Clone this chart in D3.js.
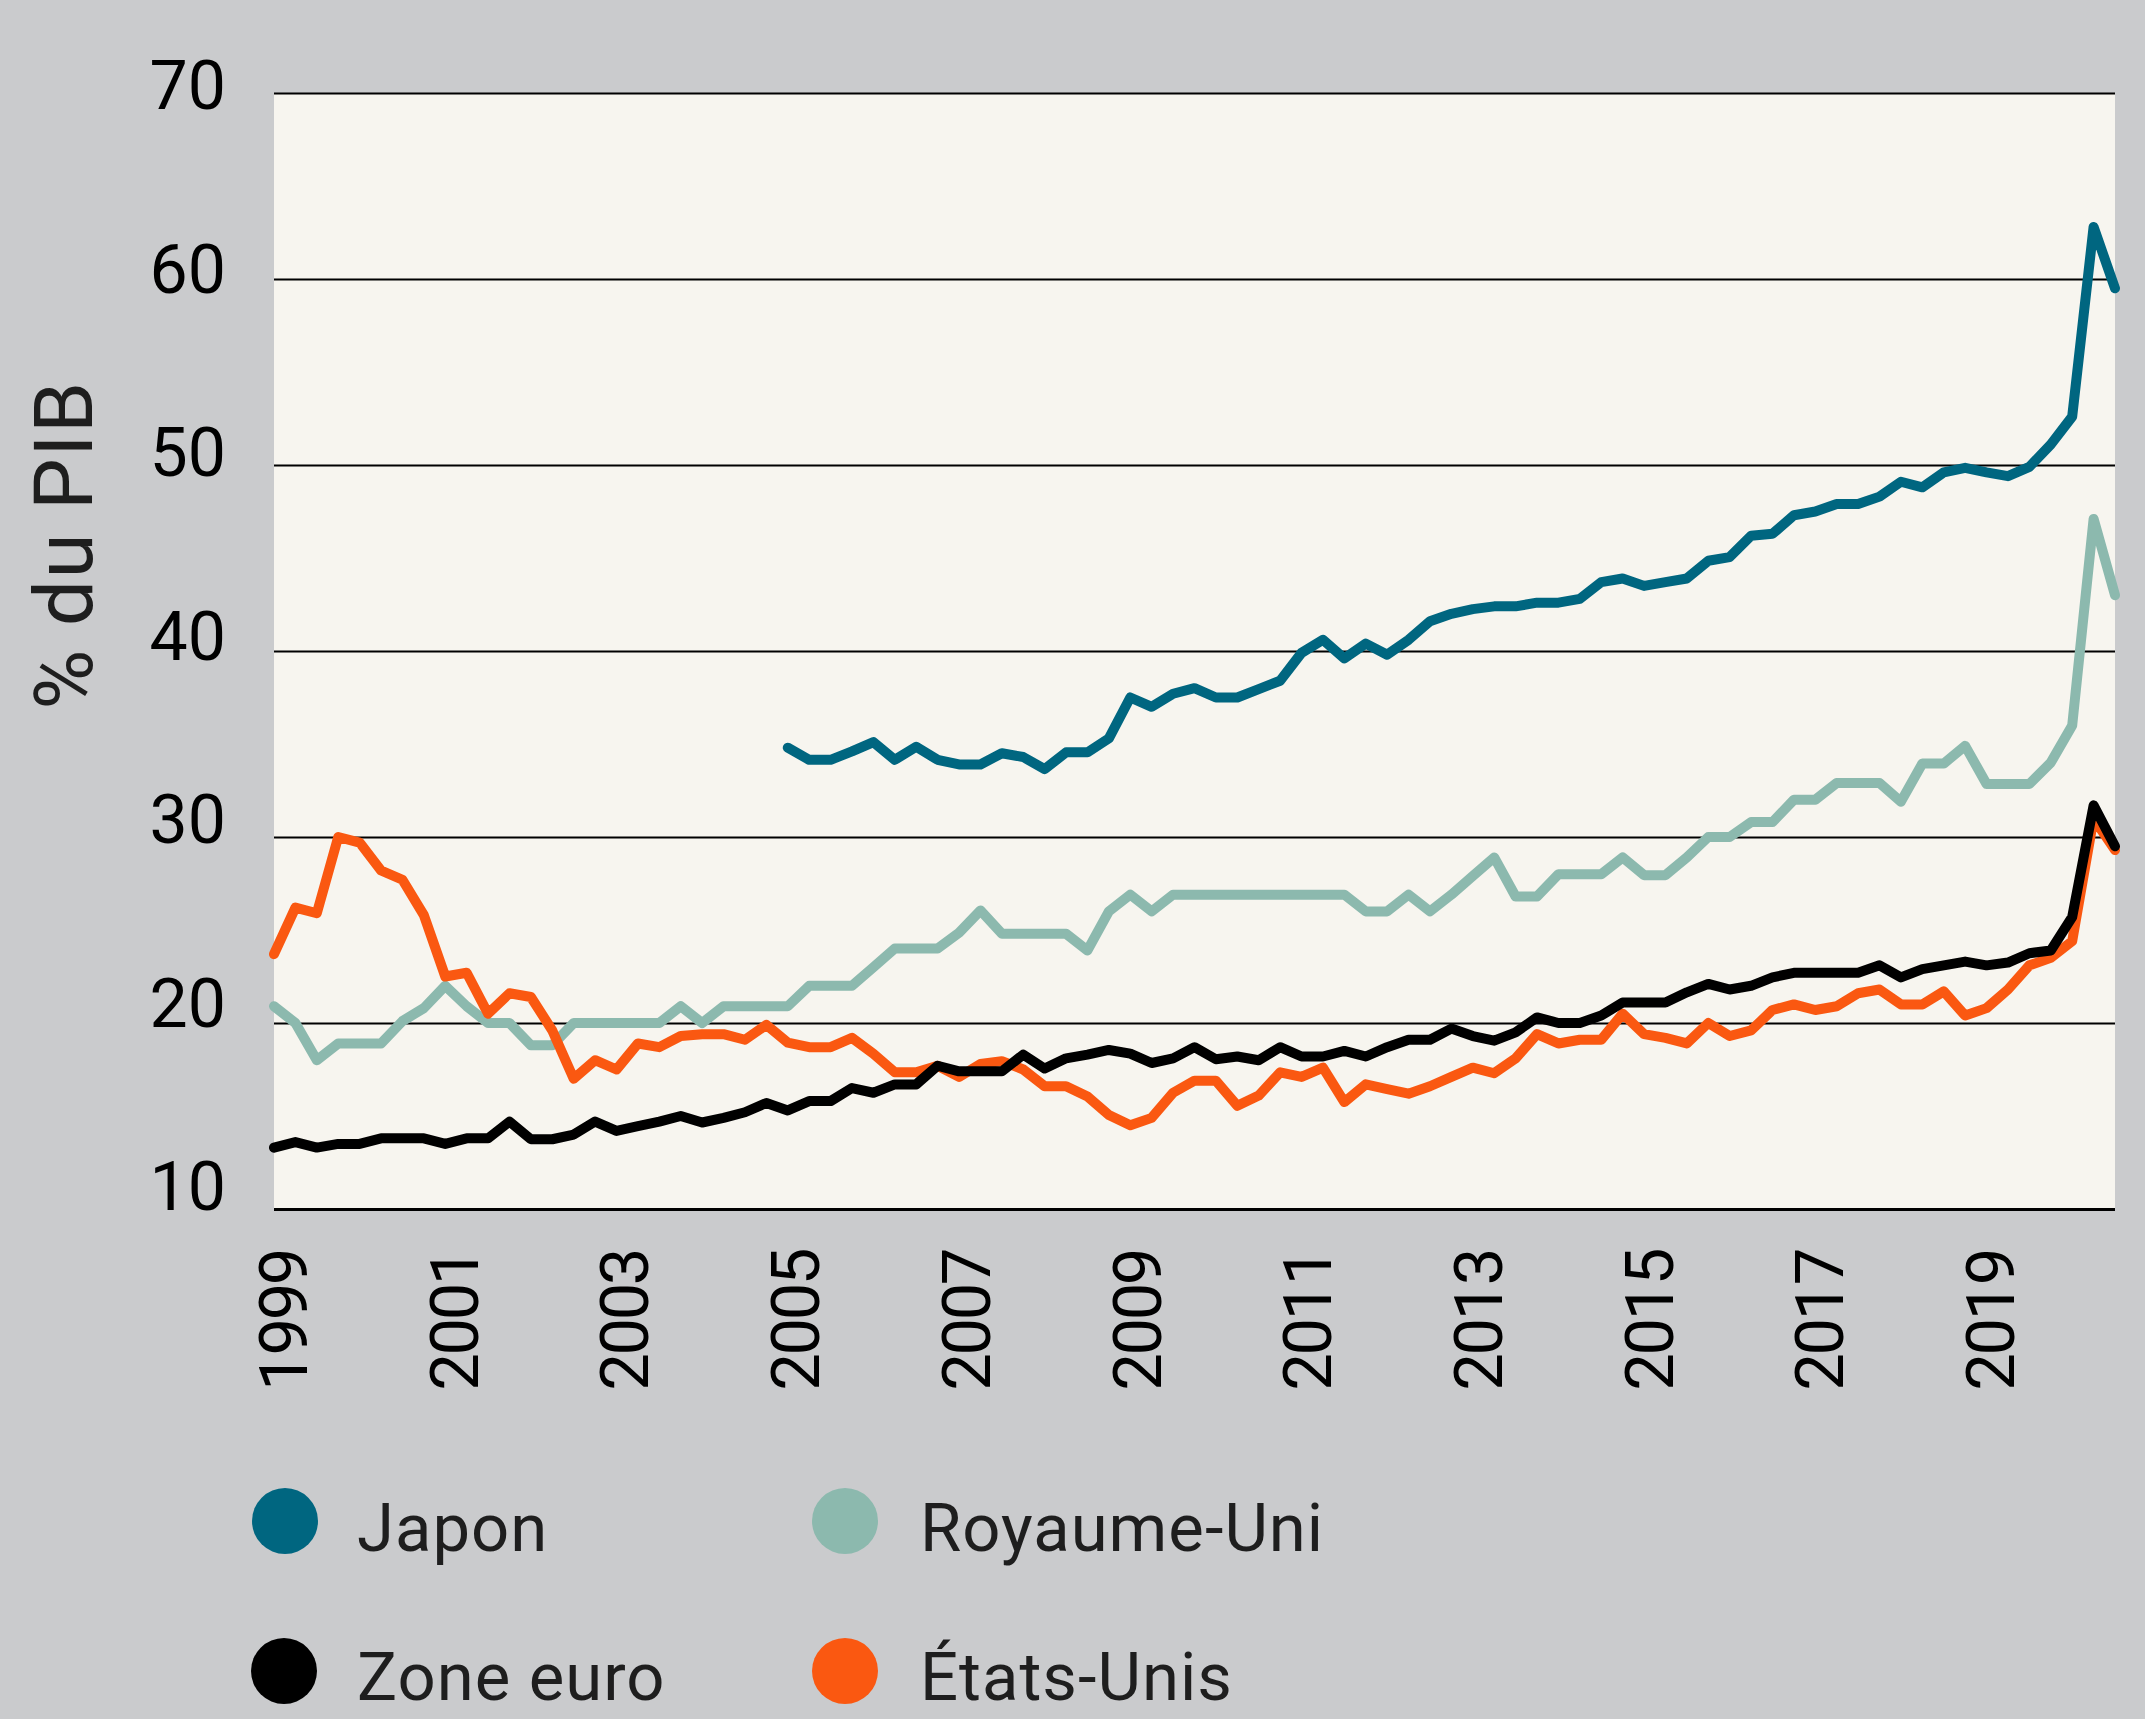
<!DOCTYPE html>
<html><head><meta charset="utf-8">
<script src="https://cdn.jsdelivr.net/npm/d3@7"></script>
<style>html,body{margin:0;padding:0;background:#cacbcd;} svg{display:block;}</style>
</head><body><svg id="chart" width="2145" height="1719"></svg>
<script>
// ---- DATA ----
const quarters = [
 "1999T1","1999T2","1999T3","1999T4","2000T1","2000T2","2000T3","2000T4",
 "2001T1","2001T2","2001T3","2001T4","2002T1","2002T2","2002T3","2002T4",
 "2003T1","2003T2","2003T3","2003T4","2004T1","2004T2","2004T3","2004T4",
 "2005T1","2005T2","2005T3","2005T4","2006T1","2006T2","2006T3","2006T4",
 "2007T1","2007T2","2007T3","2007T4","2008T1","2008T2","2008T3","2008T4",
 "2009T1","2009T2","2009T3","2009T4","2010T1","2010T2","2010T3","2010T4",
 "2011T1","2011T2","2011T3","2011T4","2012T1","2012T2","2012T3","2012T4",
 "2013T1","2013T2","2013T3","2013T4","2014T1","2014T2","2014T3","2014T4",
 "2015T1","2015T2","2015T3","2015T4","2016T1","2016T2","2016T3","2016T4",
 "2017T1","2017T2","2017T3","2017T4","2018T1","2018T2","2018T3","2018T4",
 "2019T1","2019T2","2019T3","2019T4","2020T1","2020T2","2020T3"];

const japon = [
 null,null,null,null,null,null,null,null,null,null,null,null,
 null,null,null,null,null,null,null,null,null,null,null,null,
 34.8,34.15,34.15,34.6,35.1,34.15,34.85,34.15,
 33.9,33.9,34.5,34.3,33.65,34.55,34.55,35.3,
 37.5,37.0,37.7,38.0,37.5,37.5,37.95,38.4,
 39.9,40.6,39.6,40.4,39.8,40.6,41.6,42.0,
 42.25,42.4,42.4,42.6,42.6,42.8,43.7,43.9,
 43.5,43.7,43.9,44.85,45.05,46.2,46.3,47.3,
 47.5,47.9,47.9,48.3,49.1,48.8,49.6,49.85,
 49.6,49.4,49.9,51.1,52.6,62.8,59.5];

const royaumeUni = [
 20.9,20.0,18.0,18.9,18.9,18.9,20.1,20.8,
 22.0,20.9,20.0,20.0,18.8,18.8,20.0,20.0,
 20.0,20.0,20.0,20.9,20.0,20.9,20.9,20.9,
 20.9,22.0,22.0,22.0,23.0,24.0,24.0,24.0,
 24.85,26.05,24.8,24.8,24.8,24.8,23.9,26.0,
 26.9,26.0,26.9,26.9,26.9,26.9,26.9,26.9,
 26.9,26.9,26.9,26.0,26.0,26.9,26.0,26.9,
 27.9,28.9,26.8,26.8,28.0,28.0,28.0,28.9,
 27.95,27.95,28.9,30.0,30.0,30.8,30.8,32.0,
 32.0,32.9,32.9,32.9,31.9,33.95,33.95,34.9,
 32.85,32.85,32.85,34.0,36.0,47.1,43.0];

const zoneEuro = [
 13.3,13.6,13.3,13.5,13.5,13.8,13.8,13.8,
 13.5,13.8,13.8,14.7,13.75,13.75,14.0,14.7,
 14.2,14.45,14.7,15.0,14.65,14.9,15.2,15.7,
 15.3,15.8,15.8,16.5,16.25,16.7,16.7,17.7,
 17.4,17.4,17.4,18.3,17.55,18.1,18.3,18.55,
 18.35,17.85,18.1,18.7,18.05,18.2,18.0,18.7,
 18.2,18.2,18.5,18.2,18.7,19.1,19.1,19.7,
 19.3,19.05,19.5,20.3,20.0,20.0,20.4,21.1,
 21.1,21.1,21.65,22.1,21.8,22.0,22.45,22.7,
 22.7,22.7,22.7,23.1,22.45,22.9,23.1,23.3,
 23.1,23.25,23.75,23.9,25.7,31.7,29.5];

const etatsUnis = [
 23.7,26.2,25.9,30.0,29.7,28.2,27.7,25.8,
 22.5,22.7,20.5,21.6,21.4,19.6,17.0,18.0,
 17.5,18.9,18.7,19.3,19.4,19.4,19.1,19.9,
 18.95,18.7,18.7,19.2,18.35,17.35,17.35,17.7,
 17.1,17.8,17.95,17.5,16.6,16.6,16.05,15.05,
 14.5,14.9,16.25,16.9,16.9,15.55,16.1,17.35,
 17.1,17.6,15.75,16.7,16.45,16.2,16.6,17.1,
 17.6,17.3,18.1,19.4,18.9,19.1,19.1,20.5,
 19.4,19.2,18.9,20.0,19.3,19.6,20.7,21.0,
 20.7,20.9,21.6,21.8,21.0,21.0,21.7,20.4,
 20.8,21.8,23.1,23.5,24.4,31.0,29.3];

const yTicks = [10, 20, 30, 40, 50, 60, 70];
const xTickYears = ["1999","2001","2003","2005","2007","2009","2011","2013","2015","2017","2019"];
const yTitle = "% du PIB";

const seriesNames = ["Japon", "Royaume-Uni", "Zone euro", "États-Unis"];
const seriesValues = [japon, royaumeUni, zoneEuro, etatsUnis];
const seriesColors = ["#006680", "#8cb9ae", "#000000", "#fa5811"];
const drawOrder = [1, 0, 3, 2];

// ---- LAYOUT ----
(function () {
const W = 2145, H = 1719;
const pL = 274, pR = 2115, pT = 93, pB = 1209;
const font = "Roboto, 'Noto Sans', sans-serif";

const svg = d3.select("#chart");
svg.append("rect").attr("width", W).attr("height", H).attr("fill", "#cacbcd");
svg.append("rect").attr("x", pL).attr("y", pT).attr("width", pR - pL).attr("height", pB - pT).attr("fill", "#f7f5ef");

const x = d3.scalePoint().domain(quarters).range([pL, pR]);
const y = d3.scaleLinear().domain([10, 70]).range([pB, pT]);
// label placement scales (labels in the original sit on a slightly tighter spacing)
const xLab = d3.scalePoint().domain(quarters).range([283, 283 + 86 * 21.34]);
const yLab = d3.scaleLinear().domain([10, 70]).range([1185.6, 84.5]);

// gridlines via axis
const grid = svg.append("g").attr("transform", `translate(${pL},0)`)
  .call(d3.axisLeft(y).tickValues(yTicks).tickSize(-(pR - pL)).tickFormat(""));
grid.select(".domain").remove();
grid.selectAll(".tick line").attr("stroke", "#000").attr("stroke-width", d => d === 10 ? 3 : 2.2);

// y tick labels
svg.append("g").selectAll("text").data(yTicks).join("text")
  .attr("x", 226).attr("y", d => yLab(d) + 24.5)
  .attr("text-anchor", "end").attr("font-family", font).attr("font-size", 68)
  .attr("fill", "#000").text(d => d);

// x tick labels
svg.append("g").selectAll("text").data(xTickYears).join("text")
  .attr("transform", d => `translate(${xLab(d + "T1") + 24},1250) rotate(-90)`)
  .attr("text-anchor", "end").attr("font-family", font).attr("font-size", 67)
  .attr("letter-spacing", -2.5).attr("fill", "#000").text(d => d);

// y title
svg.append("text").attr("transform", "translate(92,545) rotate(-90)")
  .attr("text-anchor", "middle").attr("font-family", font).attr("font-size", 82)
  .attr("letter-spacing", 1.5).attr("fill", "#1e1e1e").text(yTitle);

// lines
const line = d3.line().defined(d => d[1] != null).x(d => x(d[0])).y(d => y(d[1]));
drawOrder.forEach(k => {
  const data = quarters.map((q, i) => [q, seriesValues[k][i]]);
  svg.append("path").datum(data).attr("d", line)
    .attr("fill", "none").attr("stroke", seriesColors[k]).attr("stroke-width", 10)
    .attr("stroke-linejoin", "round").attr("stroke-linecap", "round");
});

// legend
const legPos = [[285, 1521, 357, 1551], [845, 1521, 920, 1551], [284, 1671, 357, 1700], [845, 1671, 920, 1700]];
const leg = svg.append("g");
seriesNames.forEach((n, k) => {
  const p = legPos[k];
  leg.append("circle").attr("cx", p[0]).attr("cy", p[1]).attr("r", 33).attr("fill", seriesColors[k]);
  leg.append("text").attr("x", p[2]).attr("y", p[3]).attr("font-family", font).attr("font-size", 67)
    .attr("letter-spacing", 1).attr("fill", "#1e1e1e").text(n);
});
})();
</script></body></html>
